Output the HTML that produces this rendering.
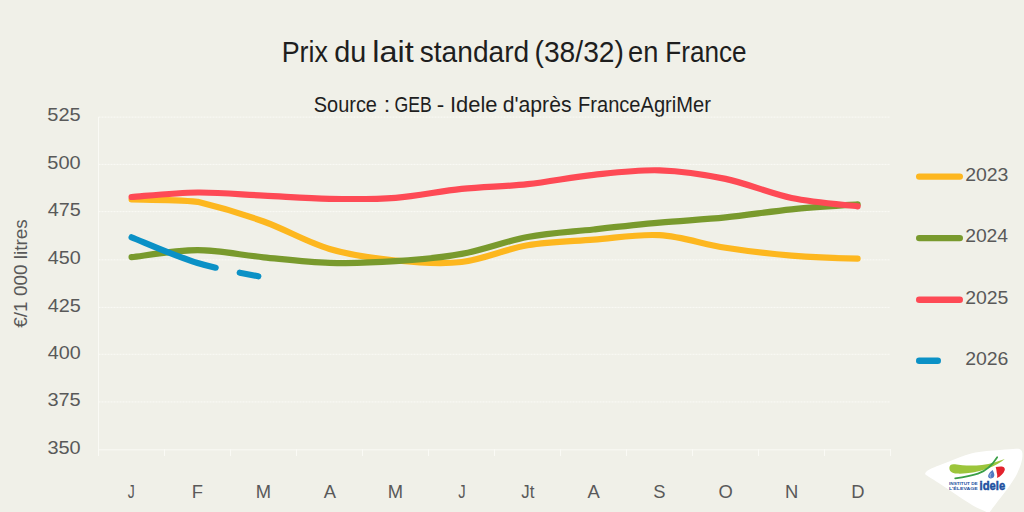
<!DOCTYPE html>
<html><head><meta charset="utf-8"><style>
html,body{margin:0;padding:0;background:#f0f0e8;}
body{width:1024px;height:512px;overflow:hidden;}
svg{display:block;font-family:"Liberation Sans",sans-serif;}
</style></head><body>
<svg width="1024" height="512" viewBox="0 0 1024 512">
<rect width="1024" height="512" fill="#f0f0e8"/>
<text transform="translate(281.70,61.80) scale(0.9208,1)" font-size="29.2" fill="#1e1e1e">Prix</text>
<text transform="translate(334.29,61.80) scale(0.9858,1)" font-size="29.2" fill="#1e1e1e">du</text>
<text transform="translate(372.33,61.80) scale(1.1112,1)" font-size="29.2" fill="#1e1e1e">lait</text>
<text transform="translate(419.71,61.80) scale(0.9646,1)" font-size="29.2" fill="#1e1e1e">standard</text>
<text transform="translate(534.50,61.80) scale(0.9670,1)" font-size="29.2" fill="#1e1e1e">(38/32)</text>
<text transform="translate(628.05,61.80) scale(0.9337,1)" font-size="29.2" fill="#1e1e1e">en</text>
<text transform="translate(665.36,61.80) scale(0.8946,1)" font-size="29.2" fill="#1e1e1e">France</text>
<text transform="translate(313.78,111.70) scale(0.8986,1)" font-size="22.2" fill="#1e1e1e">Source</text>
<text transform="translate(383.81,111.70) scale(1.0500,1)" font-size="22.2" fill="#1e1e1e">:</text>
<text transform="translate(394.42,111.70) scale(0.7960,1)" font-size="22.2" fill="#1e1e1e">GEB</text>
<text transform="translate(436.81,111.70) scale(1.0112,1)" font-size="22.2" fill="#1e1e1e">-</text>
<text transform="translate(449.98,111.70) scale(0.9887,1)" font-size="22.2" fill="#1e1e1e">Idele</text>
<text transform="translate(502.71,111.70) scale(0.9546,1)" font-size="22.2" fill="#1e1e1e">d&#39;après</text>
<text transform="translate(578.05,111.70) scale(0.9052,1)" font-size="22.2" fill="#1e1e1e">FranceAgriMer</text>
<line x1="98.5" y1="117.1" x2="890.5" y2="117.1" stroke="#fafaf6" stroke-width="1" stroke-dasharray="2 1"/>
<line x1="98.5" y1="164.4" x2="890.5" y2="164.4" stroke="#fafaf6" stroke-width="1" stroke-dasharray="2 1"/>
<line x1="98.5" y1="211.6" x2="890.5" y2="211.6" stroke="#fafaf6" stroke-width="1" stroke-dasharray="2 1"/>
<line x1="98.5" y1="259.8" x2="890.5" y2="259.8" stroke="#fafaf6" stroke-width="1" stroke-dasharray="2 1"/>
<line x1="98.5" y1="307.4" x2="890.5" y2="307.4" stroke="#fafaf6" stroke-width="1" stroke-dasharray="2 1"/>
<line x1="98.5" y1="354.3" x2="890.5" y2="354.3" stroke="#fafaf6" stroke-width="1" stroke-dasharray="2 1"/>
<line x1="98.5" y1="401.9" x2="890.5" y2="401.9" stroke="#fafaf6" stroke-width="1" stroke-dasharray="2 1"/>
<line x1="98.5" y1="449.8" x2="890.5" y2="449.8" stroke="#fafaf5" stroke-width="1"/>
<line x1="98.5" y1="117" x2="98.5" y2="456" stroke="#fafaf5" stroke-width="1"/>
<line x1="164.5" y1="449" x2="164.5" y2="456" stroke="#fafaf5" stroke-width="1"/>
<line x1="230.5" y1="449" x2="230.5" y2="456" stroke="#fafaf5" stroke-width="1"/>
<line x1="296.5" y1="449" x2="296.5" y2="456" stroke="#fafaf5" stroke-width="1"/>
<line x1="362.5" y1="449" x2="362.5" y2="456" stroke="#fafaf5" stroke-width="1"/>
<line x1="428.5" y1="449" x2="428.5" y2="456" stroke="#fafaf5" stroke-width="1"/>
<line x1="494.5" y1="449" x2="494.5" y2="456" stroke="#fafaf5" stroke-width="1"/>
<line x1="560.5" y1="449" x2="560.5" y2="456" stroke="#fafaf5" stroke-width="1"/>
<line x1="626.5" y1="449" x2="626.5" y2="456" stroke="#fafaf5" stroke-width="1"/>
<line x1="692.5" y1="449" x2="692.5" y2="456" stroke="#fafaf5" stroke-width="1"/>
<line x1="758.5" y1="449" x2="758.5" y2="456" stroke="#fafaf5" stroke-width="1"/>
<line x1="824.5" y1="449" x2="824.5" y2="456" stroke="#fafaf5" stroke-width="1"/>
<line x1="890.5" y1="449" x2="890.5" y2="456" stroke="#fafaf5" stroke-width="1"/>
<text transform="translate(47.35,121.40) scale(1.0821,1)" font-size="18.5" fill="#595959">525</text>
<text transform="translate(47.35,168.70) scale(1.0801,1)" font-size="18.5" fill="#595959">500</text>
<text transform="translate(47.69,215.90) scale(1.0706,1)" font-size="18.5" fill="#595959">475</text>
<text transform="translate(47.70,264.05) scale(1.0686,1)" font-size="18.5" fill="#595959">450</text>
<text transform="translate(47.69,311.70) scale(1.0706,1)" font-size="18.5" fill="#595959">425</text>
<text transform="translate(47.70,358.60) scale(1.0686,1)" font-size="18.5" fill="#595959">400</text>
<text transform="translate(47.39,406.20) scale(1.0807,1)" font-size="18.5" fill="#595959">375</text>
<text transform="translate(47.39,454.05) scale(1.0787,1)" font-size="18.5" fill="#595959">350</text>
<g transform="translate(26.7,327.6) rotate(-90)"><text transform="translate(-0.15,0.00) scale(0.9881,1)" font-size="19.2" fill="#595959">€/1 000 litres</text></g>
<text transform="translate(127.78,497.50) scale(0.8014,1)" font-size="17.5" fill="#595959">J</text>
<text transform="translate(191.75,497.50) scale(1.0500,1)" font-size="17.5" fill="#595959">F</text>
<text transform="translate(255.65,497.50) scale(1.0500,1)" font-size="17.5" fill="#595959">M</text>
<text transform="translate(323.87,497.50) scale(1.0500,1)" font-size="17.5" fill="#595959">A</text>
<text transform="translate(387.85,497.50) scale(1.0500,1)" font-size="17.5" fill="#595959">M</text>
<text transform="translate(458.36,497.50) scale(0.8502,1)" font-size="17.5" fill="#595959">J</text>
<text transform="translate(521.33,497.50) scale(0.9612,1)" font-size="17.5" fill="#595959">Jt</text>
<text transform="translate(587.57,497.50) scale(1.0500,1)" font-size="17.5" fill="#595959">A</text>
<text transform="translate(653.17,497.50) scale(1.0500,1)" font-size="17.5" fill="#595959">S</text>
<text transform="translate(718.41,497.50) scale(1.0500,1)" font-size="17.5" fill="#595959">O</text>
<text transform="translate(785.06,497.50) scale(1.0500,1)" font-size="17.5" fill="#595959">N</text>
<text transform="translate(851.15,497.50) scale(1.0500,1)" font-size="17.5" fill="#595959">D</text>
<path d="M131.60,199.50C153.60,199.88 175.60,199.82 197.60,201.80C219.60,207.08 241.60,213.63 263.60,221.50C285.60,229.37 307.60,242.50 329.60,249.00C351.60,255.50 373.60,258.33 395.60,260.50C417.60,262.67 439.60,264.53 461.60,262.00C483.60,259.47 505.60,249.02 527.60,245.30C549.60,241.58 571.60,241.38 593.60,239.70C615.60,238.02 637.60,233.87 659.60,235.20C681.60,236.53 703.60,244.30 725.60,247.70C747.60,251.10 769.60,253.77 791.60,255.60C813.60,257.43 835.60,258.18 857.60,258.70" fill="none" stroke="#fdb71f" stroke-width="6.2" stroke-linecap="round" stroke-linejoin="round"/>
<path d="M131.60,257.20C142.60,256.03 175.60,250.18 197.60,250.20C219.60,250.22 241.60,255.20 263.60,257.30C285.60,259.40 307.60,262.15 329.60,262.80C351.60,263.45 373.60,262.68 395.60,261.20C417.60,259.72 439.60,257.93 461.60,253.90C483.60,249.87 505.60,241.07 527.60,237.00C549.60,232.93 571.60,231.88 593.60,229.50C615.60,227.12 637.60,224.72 659.60,222.70C681.60,220.68 703.60,219.62 725.60,217.40C747.60,215.18 769.60,211.58 791.60,209.40C813.60,207.22 846.60,205.15 857.60,204.30" fill="none" stroke="#799a2d" stroke-width="6.2" stroke-linecap="round" stroke-linejoin="round"/>
<path d="M131.60,197.00C142.60,196.25 175.60,192.73 197.60,192.50C219.60,192.27 241.60,194.55 263.60,195.60C285.60,196.65 307.60,198.43 329.60,198.80C351.60,199.17 373.60,199.45 395.60,197.80C417.60,196.15 439.60,191.17 461.60,188.90C483.60,186.63 505.60,186.55 527.60,184.20C549.60,181.85 571.60,177.12 593.60,174.80C615.60,172.48 637.60,169.62 659.60,170.30C681.60,170.98 703.60,174.28 725.60,178.90C747.60,183.52 769.60,193.43 791.60,198.00C813.60,202.57 846.60,204.92 857.60,206.30" fill="none" stroke="#fe4a55" stroke-width="6.2" stroke-linecap="round" stroke-linejoin="round"/>
<path d="M131.60,237.30C142.60,241.58 175.60,256.33 197.60,263.00C219.60,269.67 252.60,274.92 263.60,277.30" fill="none" stroke="#0b91c6" stroke-width="6.2" stroke-linecap="round" stroke-linejoin="round" stroke-dasharray="89.5 24.5 19 200"/>
<line x1="919.2" y1="176.6" x2="959.8" y2="176.6" stroke="#fdb71f" stroke-width="6.4" stroke-linecap="round"/>
<text transform="translate(965.13,180.80) scale(1.0532,1)" font-size="18.5" fill="#595959">2023</text>
<line x1="919.2" y1="238.1" x2="959.8" y2="238.1" stroke="#799a2d" stroke-width="6.4" stroke-linecap="round"/>
<text transform="translate(965.13,242.30) scale(1.0458,1)" font-size="18.5" fill="#595959">2024</text>
<line x1="919.2" y1="299.8" x2="959.8" y2="299.8" stroke="#fe4a55" stroke-width="6.4" stroke-linecap="round"/>
<text transform="translate(965.13,304.00) scale(1.0522,1)" font-size="18.5" fill="#595959">2025</text>
<line x1="919.2" y1="360.7" x2="937.8" y2="360.7" stroke="#0b91c6" stroke-width="6.4" stroke-linecap="round"/>
<text transform="translate(965.13,364.90) scale(1.0532,1)" font-size="18.5" fill="#595959">2026</text>
<path d="M925.20,473.85C925.43,472.75 925.85,471.48 929.40,469.60C932.95,467.73 939.40,465.32 946.50,462.60C953.60,459.88 963.08,455.38 972.00,453.30C980.92,451.22 992.67,450.85 1000.00,450.10C1007.33,449.35 1012.58,448.88 1016.00,448.80C1019.42,448.72 1019.43,448.82 1020.50,449.60C1021.57,450.38 1022.23,451.43 1022.40,453.50C1022.57,455.57 1022.37,458.68 1021.50,462.00C1020.63,465.32 1018.85,469.94 1017.20,473.40C1015.55,476.86 1013.63,479.63 1011.60,482.75C1009.57,485.87 1007.33,488.98 1005.00,492.10C1002.67,495.23 1000.02,498.35 997.60,501.50C995.18,504.65 992.02,508.92 990.50,511.00C988.98,513.08 989.33,513.92 988.50,514.00C987.67,514.08 987.58,512.63 985.50,511.50C983.42,510.37 979.88,509.33 976.00,507.20C972.12,505.07 966.85,501.68 962.20,498.70C957.55,495.72 952.78,492.42 948.10,489.30C943.42,486.18 937.45,482.18 934.10,480.00C930.75,477.82 929.48,477.22 928.00,476.20C926.52,475.18 924.97,474.95 925.20,473.85Z" fill="#ffffff"/>
<path d="M949.4,467.5 C949.2,471.3 951.5,473.3 957,473.6 C966,474 976,472.5 987,468.8 C995,466 1001,462 1004.8,459 C998,461.5 991,463.8 982,465 C972,466 962,465.5 955,464.3 C951.5,463.8 949.6,465 949.4,467.5 Z" fill="#9cc53b"/>
<path d="M955.2,478.3 C965,477 972,475.6 978,473.6 C987,470.5 993,464 997.2,457.2" fill="none" stroke="#3a9f46" stroke-width="1.7" stroke-linecap="round"/>
<path d="M995.7,467.1 C998,466.6 1001,466.4 1002.75,466.7 C1004.6,467.2 1005.2,469 1004.7,470.2 C1003.5,473.5 1000.5,476.5 996.9,478.1 C997.4,476 997.3,474.5 996.8,473 C996.5,471 996.4,469 995.7,467.1 Z" fill="#e3222d"/>
<path d="M992.6,470 C990.5,471.5 988.3,474 988.1,476 C988,477.6 989.4,478.5 991,478.4 C993,478.3 994.4,477 994.35,475 C994.3,473.2 993.4,471.5 992.6,470 Z" fill="#4f78c2"/>
<path d="M990.9,473.6 C989.9,474.8 989.6,476.2 990.6,477.3" fill="none" stroke="#c9d5ee" stroke-width="0.8" stroke-linecap="round"/>
<text transform="translate(948.99,485.30) scale(1.0612,1)" font-size="4.4" font-weight="bold" fill="#1e50a0">INSTITUT DE</text>
<text transform="translate(948.95,489.80) scale(1.1808,1)" font-size="4.4" font-weight="bold" fill="#1e50a0">L&#39;ÉLEVAGE</text>
<text transform="translate(979.61,489.80) scale(0.9195,1)" font-size="12.2" font-weight="bold" fill="#1e50a0" stroke="#1e50a0" stroke-width="0.5">idele</text>
</svg>
</body></html>
